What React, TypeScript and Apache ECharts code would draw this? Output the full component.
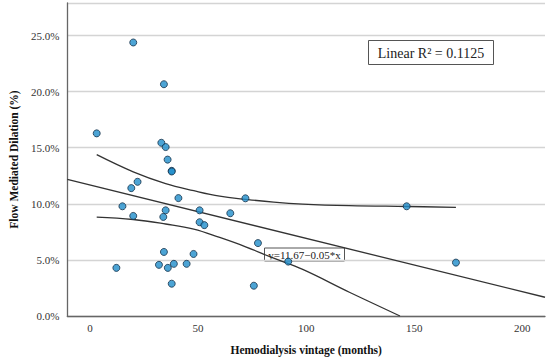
import React, { useEffect, useRef } from "react";
import * as echarts from "echarts";

// Scatter data: hemodialysis vintage (months) vs FMD (%)
const vintageMonths = [3.1, 20.0, 34.2, 33.0, 35.0, 35.9, 37.8, 37.8, 22.0, 19.1, 15.0, 20.0, 35.0, 33.9, 40.9, 34.2, 12.2, 31.9, 36.0, 38.8, 44.7, 47.9, 37.8, 50.7, 50.7, 52.9, 64.9, 71.9, 77.7, 91.7, 75.8, 146.5, 169.3];
const fmdPercent = [16.28, 24.38, 20.66, 15.44, 15.06, 13.94, 12.94, 12.88, 11.96, 11.40, 9.78, 8.92, 9.42, 8.83, 10.51, 5.71, 4.29, 4.56, 4.29, 4.65, 4.65, 5.53, 2.88, 9.42, 8.36, 8.10, 9.16, 10.49, 6.50, 4.85, 2.70, 9.78, 4.76];

// Linear fit (as drawn)
const fitIntercept = 11.67;
const fitSlope = -0.0475;

// Confidence band
const bandUpperX = [3.1, 20, 35, 48, 60, 72, 85, 98.4, 120, 147, 169.3];
const bandUpperY = [14.38, 12.85, 11.8, 11.17, 10.68, 10.4, 10.15, 9.98, 9.84, 9.76, 9.69];
const bandLowerX = [3.1, 20, 35, 48, 60, 72, 85, 98.4, 120, 143.4];
const bandLowerY = [8.81, 8.6, 8.2, 7.75, 7.0, 6.17, 5.15, 4.15, 2.12, 0];

const xTicks = [0, 50, 100, 150, 200];
const xMin = -10.5;
const xMax = 210.5;
const yMax = 27.9;

const SERIF = "'Liberation Serif', 'Times New Roman', serif";
const LINE = "#333333";

export default function App() {
  const ref = useRef<HTMLDivElement>(null);
  useEffect(() => {
    document.body.style.margin = "0";
    const chart = echarts.init(ref.current!, undefined, { renderer: "svg" });
    const points = vintageMonths.map((x, i) => [x, fmdPercent[i]]);
    const fitLine = [xMin, xMax].map((x) => [x, fitIntercept + fitSlope * x]);
    const upper = bandUpperX.map((x, i) => [x, bandUpperY[i]]);
    const lower = bandLowerX.map((x, i) => [x, bandLowerY[i]]);
    const lineStyle = { color: LINE, width: 1.3 };
    chart.setOption({
      animation: false,
      grid: { left: 62, right: 5, top: 3, bottom: 42.5, containLabel: false },
      xAxis: {
        type: "value",
        min: xMin,
        max: xMax,
        name: "Hemodialysis vintage (months)",
        nameLocation: "middle",
        nameGap: 28,
        nameTextStyle: { fontFamily: SERIF, fontWeight: "bold", fontSize: 11.5, color: "#111" },
        axisLine: { show: true, onZero: false, lineStyle: { color: "#666", width: 1.3 } },
        axisTick: { show: false },
        axisLabel: {
          customValues: xTicks,
          margin: 6,
          fontFamily: SERIF,
          fontSize: 11,
          color: "#333",
        },
        splitLine: { show: false },
      },
      yAxis: {
        type: "value",
        min: 0,
        max: yMax,
        interval: 5,
        name: "Flow Mediated Dilation (%)",
        nameLocation: "middle",
        nameGap: 46,
        nameTextStyle: { fontFamily: SERIF, fontWeight: "bold", fontSize: 11.5, color: "#111" },
        axisLine: { show: true, onZero: false, lineStyle: { color: "#666", width: 1.3 } },
        axisTick: { show: false },
        axisLabel: {
          margin: 8,
          showMaxLabel: false,
          fontFamily: SERIF,
          fontSize: 11,
          color: "#333",
          formatter: (v: number) => v.toFixed(1) + "%",
        },
        splitLine: { show: true, lineStyle: { color: "#d4d4d4", width: 1.3 } },
      },
      series: [
        {
          type: "line",
          data: fitLine,
          showSymbol: false,
          lineStyle,
          silent: true,
          z: 2,
        },
        {
          type: "line",
          data: upper,
          smooth: 0.4,
          showSymbol: false,
          lineStyle,
          silent: true,
          z: 2,
        },
        {
          type: "line",
          data: lower,
          smooth: 0.4,
          showSymbol: false,
          lineStyle,
          silent: true,
          z: 2,
        },
        {
          type: "scatter",
          data: points,
          symbol: "circle",
          symbolSize: 7,
          itemStyle: { color: "#1f8dca", borderColor: "#17324a", borderWidth: 1 },
          z: 3,
        },
      ],
      graphic: [
        {
          type: "group",
          x: 368.5,
          y: 40.5,
          z: 10,
          children: [
            { type: "rect", shape: { x: 0, y: 0, width: 125, height: 24 }, style: { fill: "#fff", stroke: "#555", lineWidth: 1 } },
            {
              type: "text",
              x: 62.5,
              y: 12.5,
              style: { text: "Linear R² = 0.1125", font: `14px ${SERIF}`, fill: "#222", align: "center", verticalAlign: "middle" },
            },
          ],
        },
        {
          type: "group",
          x: 264.5,
          y: 248,
          z: 10,
          children: [
            { type: "rect", shape: { x: 0, y: 0, width: 80, height: 13 }, style: { fill: "#fff", stroke: "#555", lineWidth: 1 } },
            {
              type: "text",
              x: 40,
              y: 7,
              style: { text: "y=11.67−0.05*x", font: `11px ${SERIF}`, fill: "#222", align: "center", verticalAlign: "middle" },
            },
          ],
        },
      ],
    });
    return () => chart.dispose();
  }, []);
  return <div ref={ref} style={{ width: 550, height: 361, overflow: "hidden" }} />;
}
